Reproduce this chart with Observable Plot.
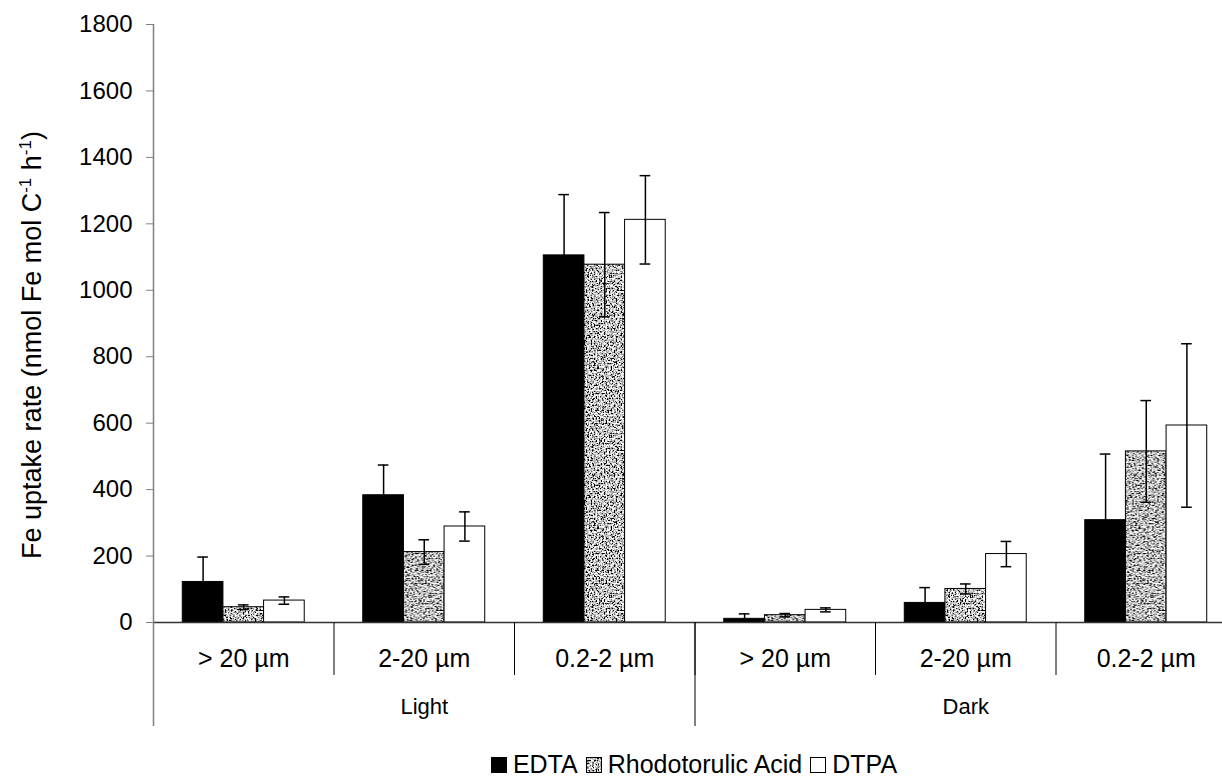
<!DOCTYPE html>
<html><head><meta charset="utf-8">
<script src="https://cdn.jsdelivr.net/npm/d3@7"></script>
<script src="https://cdn.jsdelivr.net/npm/@observablehq/plot@0.6"></script>
<style>
html,body{margin:0;padding:0;background:#fff;overflow:hidden;}
body{width:1222px;height:777px;position:relative;font-family:"Liberation Sans",Arial,sans-serif;}
#legend{position:absolute;left:166px;top:742px;width:1056px;height:45px;display:flex;justify-content:center;align-items:center;font-size:25px;color:#000;}
#legend .item{display:flex;align-items:center;margin:0 4px;}
#legend svg{margin-right:6px;}
</style></head><body>
<div id="chart"></div>
<div id="legend"></div>
<script>
const conditions = ["Light", "Dark"];
const sizeClasses = ["> 20 µm", "2-20 µm", "0.2-2 µm"];
const series = ["EDTA", "Rhodotorulic Acid", "DTPA"];
// order: Light (>20, 2-20, 0.2-2), Dark (>20, 2-20, 0.2-2)
const edta     = [122, 383, 1105, 11, 59, 308];
const edtaErr  = [75, 91, 183, 15, 46, 199];
const rhodo    = [46, 212, 1077, 22, 101, 515];
const rhodoErr = [7, 37, 157, 5, 15, 153];
const dtpa     = [66, 289, 1212, 38, 206, 593];
const dtpaErr  = [11, 44, 133, 6, 38, 246];
const yTicks = [0, 200, 400, 600, 800, 1000, 1200, 1400, 1600, 1800];

const groupKeys = conditions.flatMap(c => sizeClasses.map(s => c + "|" + s));
const vals = [edta, rhodo, dtpa];
const errs = [edtaErr, rhodoErr, dtpaErr];
const rows = [];
groupKeys.forEach((k, i) => series.forEach((s, j) => rows.push({key: k, series: s, value: vals[j][i], err: errs[j][i]})));

const W = 1222, H = 742, mL = 153, mR = -14, mT = 24, mB = 120;
const step = (W - mL - mR) / groupKeys.length;
const font = "Liberation Sans, Arial, sans-serif";

const plot = Plot.plot({
  width: W, height: H,
  marginLeft: mL, marginRight: mR, marginTop: mT, marginBottom: mB,
  style: {fontFamily: font, color: "#000", background: "#fff"},
  fx: {domain: groupKeys, padding: 0, round: false, axis: null},
  x: {domain: series, paddingInner: 0, paddingOuter: 0.72, round: false, axis: null},
  y: {domain: [0, 1800], axis: null},
  color: {domain: series, range: ["#000", "url(#stipple)", "#fff"]},
  marks: [
    Plot.axisY(yTicks, {tickSize: 7, tickPadding: 14, fontSize: 24, label: null, stroke: "#808080", tickFormat: d => String(d)}),
    Plot.barY(rows, {fx: "key", x: "series", y: "value", fill: "series", stroke: "#000", strokeWidth: 1}),
    Plot.ruleX(rows, {fx: "key", x: "series", y1: d => Math.max(0, d.value - d.err), y2: d => d.value + d.err, stroke: "#000", strokeWidth: 1.5}),
    Plot.tickY(rows, {fx: "key", x: "series", y: d => d.value + d.err, insetLeft: 15, insetRight: 15, stroke: "#000", strokeWidth: 1.5}),
    Plot.tickY(rows.filter(d => d.value - d.err > 0), {fx: "key", x: "series", y: d => d.value - d.err, insetLeft: 15, insetRight: 15, stroke: "#000", strokeWidth: 1.5}),
    Plot.ruleY([0], {stroke: "#333", strokeWidth: 1.5}),
    Plot.ruleX(groupKeys, {fx: d => d, x: null, y1: 0, y2: 0, dx: -step / 2, insetBottom: -53, stroke: "#000", strokeWidth: 1}),
    Plot.ruleX([groupKeys[3]], {fx: d => d, x: null, y1: 0, y2: 0, dx: -step / 2, insetBottom: -104, stroke: "#000", strokeWidth: 1}),
    Plot.ruleX([groupKeys[0]], {fx: d => d, x: null, y1: 1800, y2: 0, dx: -step / 2, insetBottom: -104, stroke: "#808080", strokeWidth: 1.5}),
    Plot.axisFx({anchor: "bottom", tickSize: 0, tickPadding: 27, fontSize: 25, label: null, tickFormat: k => k.split("|")[1]}),
    Plot.text(conditions, {fx: c => c + "|" + sizeClasses[1], text: c => c, frameAnchor: "bottom", dy: 91, fontSize: 22})
  ]
});

const svg = d3.select(plot);
svg.insert("defs", ":first-child").html(`
  <filter id="noiseF" x="0" y="0" width="100%" height="100%" filterUnits="objectBoundingBox">
    <feTurbulence type="fractalNoise" baseFrequency="0.6" numOctaves="2" seed="7"/>
    <feColorMatrix type="saturate" values="0"/>
    <feComponentTransfer>
      <feFuncR type="linear" slope="5" intercept="-1.95"/>
      <feFuncG type="linear" slope="5" intercept="-1.95"/>
      <feFuncB type="linear" slope="5" intercept="-1.95"/>
      <feFuncA type="linear" slope="0" intercept="1"/>
    </feComponentTransfer>
  </filter>
  <pattern id="stipple" patternUnits="userSpaceOnUse" width="160" height="160">
    <rect width="160" height="160" fill="#999" filter="url(#noiseF)"/>
  </pattern>`);

// y-axis title with superscripts
const yt = svg.append("text")
  .attr("transform", "translate(41,345) rotate(-90)")
  .attr("text-anchor", "middle")
  .attr("font-family", font)
  .attr("font-size", 27)
  .attr("fill", "#000");
yt.append("tspan").text("Fe uptake rate (nmol Fe mol C");
yt.append("tspan").attr("dy", -10).attr("font-size", 17).text("-1");
yt.append("tspan").attr("dy", 10).text(" h");
yt.append("tspan").attr("dy", -10).attr("font-size", 17).text("-1");
yt.append("tspan").attr("dy", 10).text(")");

document.getElementById("chart").appendChild(plot);

// legend
const legend = d3.select("#legend");
const swFill = ["#000", "url(#stipple)", "#fff"];
series.forEach((s, j) => {
  const it = legend.append("div").attr("class", "item");
  const sw = it.append("svg").attr("width", 16).attr("height", 16);
  sw.append("rect").attr("x", 0.5).attr("y", 0.5).attr("width", 15).attr("height", 15)
    .attr("fill", swFill[j]).attr("stroke", "#000").attr("stroke-width", 1);
  it.append("span").text(s);
});
</script>
</body></html>
